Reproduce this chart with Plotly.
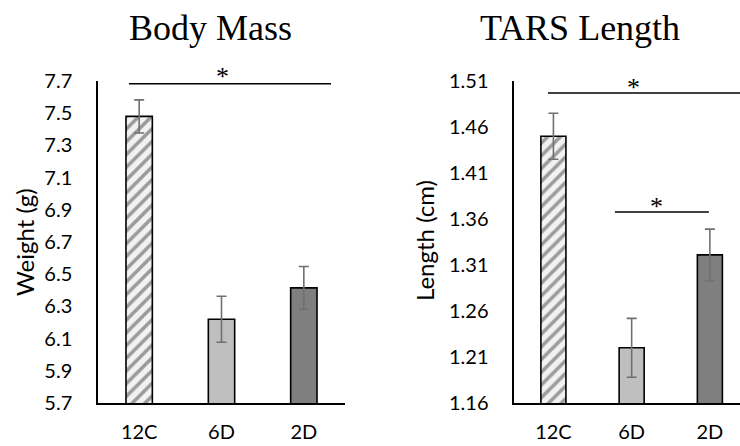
import plotly.graph_objects as go

categories = ["12C", "6D", "2D"]
mass_values = [7.48, 6.22, 6.415]
mass_err = [0.103, 0.143, 0.133]
tars_values = [1.45, 1.22, 1.321]
tars_err = [0.025, 0.032, 0.028]
mass_ticks = [5.7, 5.9, 6.1, 6.3, 6.5, 6.7, 6.9, 7.1, 7.3, 7.5, 7.7]
tars_ticks = [1.16, 1.21, 1.26, 1.31, 1.36, 1.41, 1.46, 1.51]

W, H = 740, 446
fills = ["#f2f2f2", "#bfbfbf", "#7f7f7f"]
patterns = ["/", "", ""]
sans = "Lato, Carlito, Calibri, sans-serif"
serif = "Liberation Serif, Times New Roman, serif"

def px(x):
    return x / W

def py(y):
    return 1 - y / H

fig = go.Figure()

for vals, errs, xa, ya in [(mass_values, mass_err, "x", "y"), (tars_values, tars_err, "x2", "y2")]:
    fig.add_trace(go.Bar(
        x=categories, y=vals, xaxis=xa, yaxis=ya,
        marker=dict(color=fills, line=dict(color="#000000", width=1.6),
                    pattern=dict(shape=patterns, fillmode="overlay", fgcolor="#cccccc",
                                 fgopacity=0.5, size=9, solidity=0.4)),
        error_y=dict(type="data", array=errs, visible=True, color="#707070",
                     thickness=1.6, width=5),
        showlegend=False,
    ))

common_x = dict(type="category", showline=True, linecolor="#000000", linewidth=1.5,
                ticks="", showgrid=False, zeroline=False, automargin=False,
                tickfont=dict(family=sans, size=20, color="#000000"),
                ticklabelstandoff=10)
common_y = dict(showline=True, linecolor="#000000", linewidth=1.5, ticks="",
                showgrid=False, zeroline=False, automargin=False,
                tickfont=dict(family=sans, size=20, color="#000000"),
                ticklabelstandoff=20)

fig.update_layout(
    width=W, height=H, margin=dict(l=0, r=0, t=0, b=0, autoexpand=False),
    paper_bgcolor="#ffffff", plot_bgcolor="#ffffff",
    bargap=0.68,
    xaxis=dict(domain=[px(98), px(345)], range=[-0.5, 2.5], anchor="y", **common_x),
    yaxis=dict(domain=[py(403), py(81)], range=[5.7, 7.7], anchor="x",
               tickvals=mass_ticks, ticktext=[f"{t:.1f}" for t in mass_ticks], **common_y),
    xaxis2=dict(domain=[px(514.3), 1.0], range=[-0.5, 2.385], anchor="y2", **common_x),
    yaxis2=dict(domain=[py(403), py(81)], range=[1.16, 1.51], anchor="x2",
                tickvals=tars_ticks, ticktext=[f"{t:.2f}" for t in tars_ticks], **common_y),
)

# significance brackets
lines = [("x", "y", -0.123, 2.33, 7.683),
         ("x2", "y2", -0.07, 2.385, 1.497),
         ("x2", "y2", 0.786, 1.987, 1.3675)]
for xr, yr, x0, x1, yv in lines:
    fig.add_shape(type="line", xref=xr, yref=yr, x0=x0, x1=x1, y0=yv, y1=yv,
                  line=dict(color="#000000", width=1.5))

annots = [
    dict(text="Body Mass", x=px(210), y=py(28), font=dict(family=serif, size=36, color="#000000")),
    dict(text="TARS Length", x=px(580), y=py(28), font=dict(family=serif, size=36, color="#000000")),
    dict(text="*", x=px(223), y=py(76), font=dict(family=serif, size=26, color="#000000")),
    dict(text="*", x=px(633), y=py(87), font=dict(family=serif, size=26, color="#000000")),
    dict(text="*", x=px(656), y=py(206), font=dict(family=serif, size=26, color="#000000")),
    dict(text="Weight (g)", x=px(24), y=py(242), textangle=-90,
         font=dict(family=sans, size=24, color="#000000")),
    dict(text="Length (cm)", x=px(424), y=py(241), textangle=-90,
         font=dict(family=sans, size=24, color="#000000")),
]
for a in annots:
    fig.add_annotation(xref="paper", yref="paper", showarrow=False,
                       xanchor="center", yanchor="middle", **a)

fig.write_html("out.html")
